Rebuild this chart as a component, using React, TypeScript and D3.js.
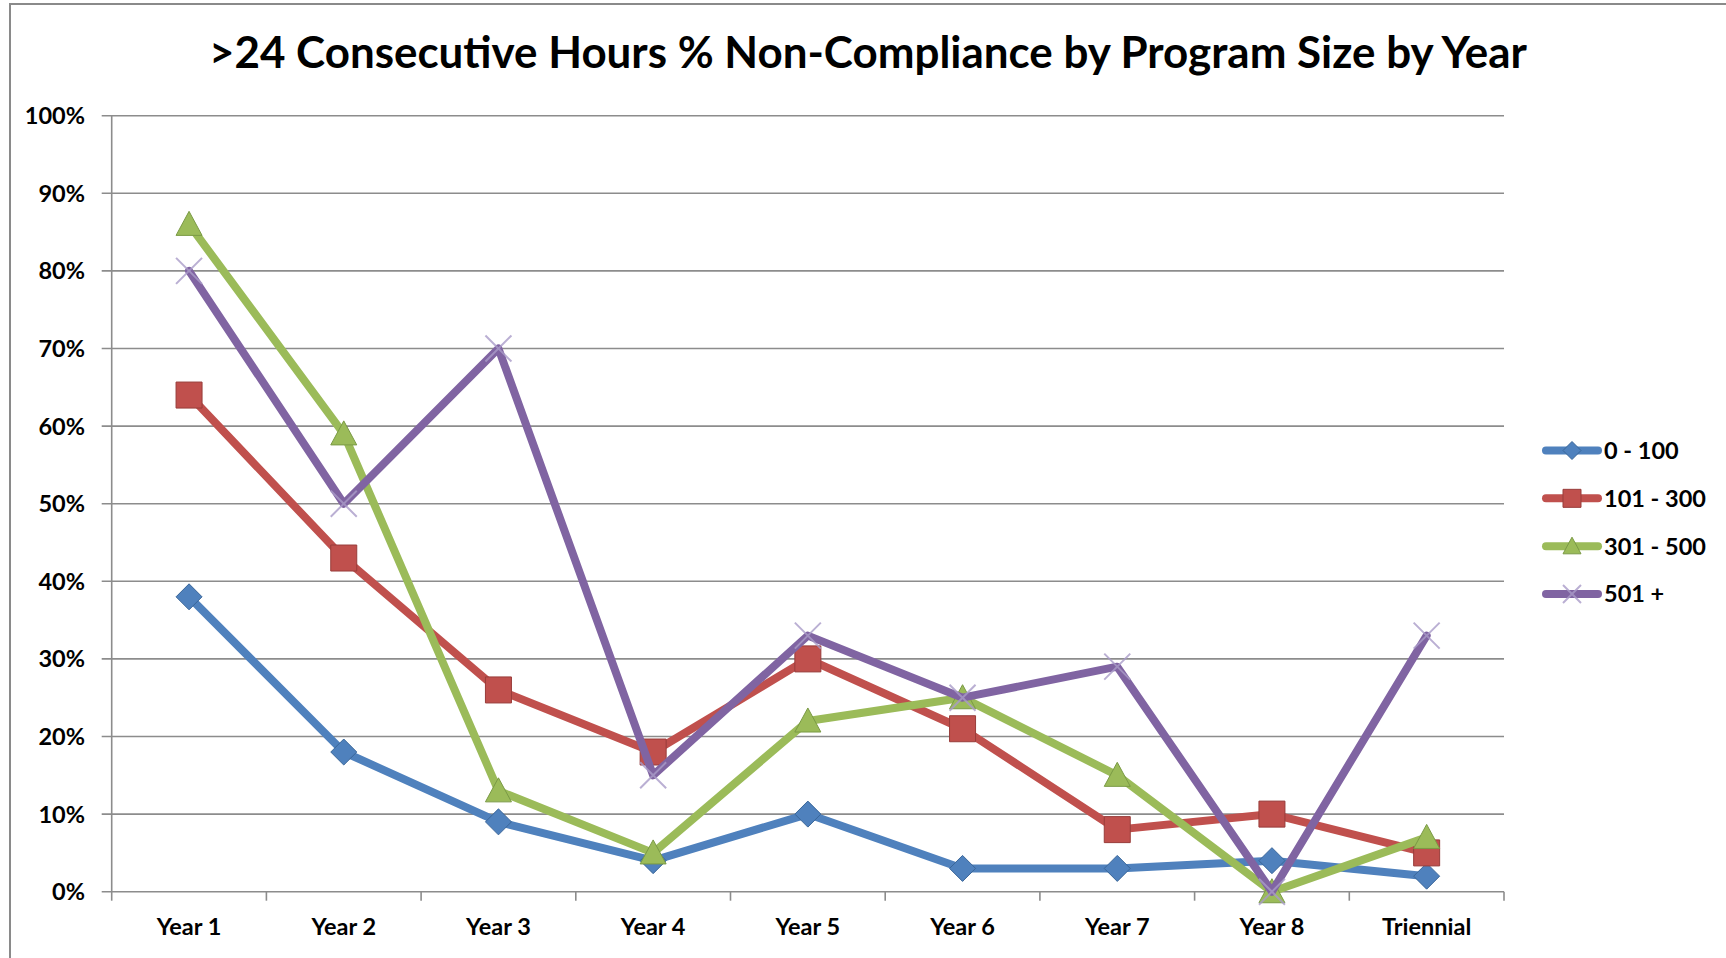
import React from "react";
import * as d3 from "d3";

const categories = ["Year 1", "Year 2", "Year 3", "Year 4", "Year 5", "Year 6", "Year 7", "Year 8", "Triennial"];
const seriesNames = ["0 - 100", "101 - 300", "301 - 500", "501 +"];
const small = [0.38, 0.18, 0.09, 0.04, 0.1, 0.03, 0.03, 0.04, 0.02];
const medium = [0.64, 0.43, 0.26, 0.18, 0.3, 0.21, 0.08, 0.1, 0.05];
const large = [0.86, 0.59, 0.13, 0.05, 0.22, 0.25, 0.15, 0.0, 0.07];
const xlarge = [0.8, 0.5, 0.7, 0.15, 0.33, 0.25, 0.29, 0.0, 0.33];
const yTicks = [0, 0.1, 0.2, 0.3, 0.4, 0.5, 0.6, 0.7, 0.8, 0.9, 1.0];

const colors = ["#4F81BD", "#C0504D", "#9BBB59", "#8064A2"];
const markerStroke = ["#3a6699", "#983c3a", "#7a9a45", "#a99bc8"];
const markers = ["diamond", "square", "triangle", "x"];

const width = 1726,
  height = 958;
const left = 111.7,
  right = 1504,
  top = 115.7,
  bottom = 891.7;
const font = "Lato, 'Open Sans', sans-serif";

const markerPath = (kind: string, s: number) => {
  const h = s / 2;
  if (kind === "diamond") return `M0,${-h}L${h},0L0,${h}L${-h},0Z`;
  if (kind === "square") return `M${-h},${-h}H${h}V${h}H${-h}Z`;
  if (kind === "triangle") return `M0,${-h}L${h},${h * 0.85}H${-h}Z`;
  return `M${-h},${-h}L${h},${h}M${h},${-h}L${-h},${h}`;
};

const Marker = ({ kind, i, s }: { kind: string; i: number; s: number }) =>
  kind === "x" ? (
    <path d={markerPath(kind, s)} stroke={markerStroke[i]} strokeWidth={2} fill="none" opacity={0.8} />
  ) : (
    <path d={markerPath(kind, s)} fill={colors[i]} stroke={markerStroke[i]} strokeWidth={1} />
  );

const App = () => {
  const data = [small, medium, large, xlarge];

  const x = d3.scaleBand<string>().domain(categories).range([left, right]);
  const y = d3.scaleLinear().domain([0, 1]).range([bottom, top]);
  const cx = (c: string) => (x(c) as number) + x.bandwidth() / 2;
  const pct = d3.format(".0%");

  const line = d3
    .line<number>()
    .x((_, i) => cx(categories[i]))
    .y((d) => y(d));

  const legendY = d3.scalePoint<string>().domain(seriesNames).range([450.5, 594]);

  return (
    <svg width={width} height={height} style={{ position: "absolute", left: 0, top: 0, background: "#fff" }}>
      {/* frame */}
      <path d={`M10,${height}V4H${width}`} fill="none" stroke="#8a8a8a" strokeWidth={2} />

      <text
        x={868}
        y={68}
        textAnchor="middle"
        fontFamily={font}
        fontWeight="bold"
        fontSize={44}
        textLength={1318}
        lengthAdjust="spacingAndGlyphs"
      >
        &gt;24 Consecutive Hours % Non-Compliance by Program Size by Year
      </text>

      {/* gridlines + y axis */}
      <g>
        {yTicks.map((t) => (
          <g key={t}>
            <line x1={left - 10} x2={right} y1={y(t)} y2={y(t)} stroke="#8c8c8c" strokeWidth={1.6} />
            <text
              x={85}
              y={y(t)}
              dy="0.36em"
              textAnchor="end"
              fontFamily={font}
              fontWeight="bold"
              fontSize={23.5}
            >
              {pct(t)}
            </text>
          </g>
        ))}
        <line x1={left} x2={left} y1={top} y2={bottom} stroke="#8c8c8c" strokeWidth={1.6} />
      </g>

      {/* x axis */}
      <g>
        {[...categories.map((c) => x(c) as number), right].map((p, i) => (
          <line key={i} x1={p} x2={p} y1={bottom} y2={bottom + 9} stroke="#8c8c8c" strokeWidth={1.6} />
        ))}
        {categories.map((c) => (
          <text key={c} x={cx(c)} y={935} textAnchor="middle" fontFamily={font} fontWeight="bold" fontSize={23.5}>
            {c}
          </text>
        ))}
      </g>

      {/* series */}
      {data.map((vals, i) => (
        <g key={seriesNames[i]}>
          <path
            d={line(vals) as string}
            fill="none"
            stroke={colors[i]}
            strokeWidth={8}
            strokeLinejoin="round"
            strokeLinecap="round"
          />
          {vals.map((v, j) => (
            <g key={j} transform={`translate(${cx(categories[j])},${y(v)})`}>
              <Marker kind={markers[i]} i={i} s={26} />
            </g>
          ))}
        </g>
      ))}

      {/* legend */}
      {seriesNames.map((n, i) => {
        const ly = legendY(n) as number;
        return (
          <g key={n}>
            <line x1={1546} x2={1598} y1={ly} y2={ly} stroke={colors[i]} strokeWidth={8} strokeLinecap="round" />
            <g transform={`translate(1572,${ly})`}>
              <Marker kind={markers[i]} i={i} s={18} />
            </g>
            <text x={1604} y={ly} dy="0.36em" fontFamily={font} fontWeight="bold" fontSize={23.5}>
              {n}
            </text>
          </g>
        );
      })}
    </svg>
  );
};

export default App;
